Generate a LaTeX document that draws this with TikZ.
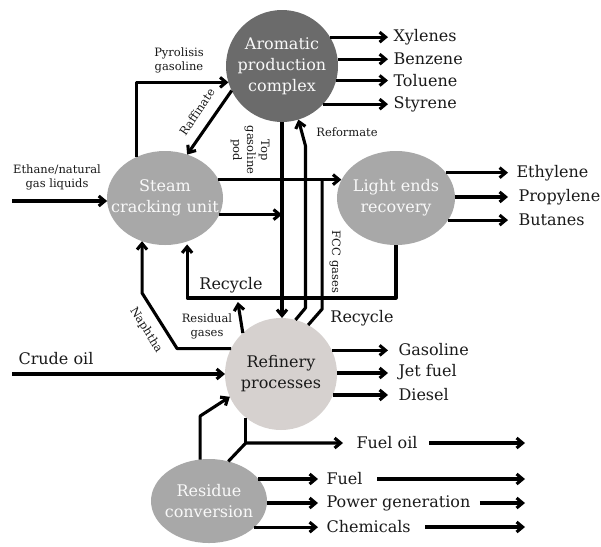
\documentclass[tikz,border=0pt]{standalone}
\usepackage{fontspec}
\setmainfont{DejaVu Serif}
\usetikzlibrary{arrows.meta,calc,shapes.geometric}
\definecolor{aromc}{HTML}{6B6B6B}
\definecolor{midc}{HTML}{A8A8A8}
\definecolor{refc}{HTML}{D6D1CF}
\definecolor{inktext}{HTML}{1A1A1A}
\begin{document}
\begin{tikzpicture}[x=1pt,y=-1pt,
  line width=3.1pt, line join=round,
  arr/.style={-{Straight Barb[length=6pt,width=10pt]}},
  blob/.style={ellipse, draw=none, inner sep=0pt, outer sep=0pt},
  ntext/.style={font=\fontsize{16}{21}\selectfont, align=center, inner sep=0pt},
  big/.style={font=\fontsize{16}{19}\selectfont, inner sep=0pt, text=inktext},
  small/.style={font=\fontsize{11.5}{14}\selectfont, align=center, inner sep=0pt, text=inktext},
]
\useasboundingbox[fill=white] (0,0) rectangle (601,546);

% ---- main units
\node[blob, fill=aromc, minimum width=112pt, minimum height=112pt,
  label={[ntext,text=white!95!gray]center:{Aromatic\\production\\complex}}] (arom) at (282,66) {};
\node[blob, fill=midc, minimum width=116pt, minimum height=94pt,
  label={[ntext,text=white!95!gray]center:{Steam\\cracking unit}}] (steam) at (165,198) {};
\node[blob, fill=midc, minimum width=118pt, minimum height=94pt,
  label={[ntext,text=white!95!gray]center:{Light ends\\recovery}}] (light) at (396,198) {};
\node[blob, fill=refc, minimum width=112pt, minimum height=112pt,
  label={[ntext,text=inktext]center:{Refinery\\processes}}] (refin) at (281,374) {};
\node[blob, fill=midc, minimum width=116pt, minimum height=84pt,
  label={[ntext,text=white!95!gray]center:{Residue\\conversion}}] (res) at (209,501) {};

% ---- helper coordinates
\coordinate (ein) at (12,201);
\coordinate (cin) at (12,374);
\coordinate (ry) at (0,298);
\coordinate (ny) at (0,293);
\coordinate (rr) at (0,416);
\coordinate (fo) at (0,443);
\coordinate (endx) at (525,0);

% ---- labels
\node[small] (ethl) at (57,177) {Ethane/natural\\gas liquids};
\node[small] (pyrl) at (179,60) {Pyrolisis\\gasoline};
\node[small, rotate=56] (rafl) at (197,112) {Raffinate};
\node[small, rotate=-90] (topl) at (250,150) {Top\\gasoline\\pod};
\node[small] (refl) at (347,132) {Reformate};
\node[small, rotate=-90] (fccl) at (335,262) {FCC gases};
\node[small] (resl) at (207,326) {Residual\\gases};
\node[small, rotate=-58] (napl) at (146,330) {Naphtha};
\node[big] (rec1) at (231,285) {Recycle};
\node[big] (rec2) at (362,318) {Recycle};
\node[big, anchor=west] (crude) at (17,359) {Crude oil};

% outputs
\node[big, anchor=west] (xyl) at (392,37) {Xylenes};
\node[big, anchor=west] (ben) at (392,59) {Benzene};
\node[big, anchor=west] (tol) at (392,81) {Toluene};
\node[big, anchor=west] (sty) at (392,104) {Styrene};
\node[big, anchor=west] (eth) at (515,173) {Ethylene};
\node[big, anchor=west] (pro) at (517,197) {Propylene};
\node[big, anchor=west] (but) at (517,220) {Butanes};
\node[big, anchor=west] (gas) at (397,350) {Gasoline};
\node[big, anchor=west] (jet) at (397,372) {Jet fuel};
\node[big, anchor=west] (die) at (397,395) {Diesel};
\node[big, anchor=west] (fuelo) at (355,443) {Fuel oil};
\node[big, anchor=west] (fuel) at (325,479) {Fuel};
\node[big, anchor=west] (pow) at (325,503) {Power generation};
\node[big, anchor=west] (chem) at (325,527) {Chemicals};

% ---- connectors
\draw[arr] (ein) -- (ein -| steam.183);
\draw[arr] (cin) -- (cin -| refin.west);
\draw[arr] (steam.125) |- (arom.197);
\draw[arr] (arom.206) -- (steam.63);
\draw[arr] (arom.south) -- (arom.south |- refin.north);
\draw[arr] (steam.19) -- (light.162 |- steam.19);
\draw[arr] (steam.-17) -- (steam.-17 -| arom.south);
\draw[arr, shorten >=3pt] (light.south) -- (light.south |- ry) -- (steam.-63 |- ry) -- (steam.-63);
\draw[arr] (refin.133) -- ++(-5,-31);
\draw[arr] (refin.75) -- ++(10,-12) -- ++(0,-162) -- (arom.-73);
\draw (refin.61) -- ++(14,-16) coordinate (fc) -- (fc |- steam.19);
\draw[arr] (refin.153.5) -- ++(-54,0) -- (steam.-118 |- ny) -- (steam.-118);

% aromatic products
\draw[arr, shorten >=4pt] (arom.31) -- (arom.31 -| xyl.west);
\draw[arr, shorten >=4pt] (arom.7) -- (arom.7 -| ben.west);
\draw[arr, shorten >=4pt] (arom.-15) -- (arom.-15 -| tol.west);
\draw[arr, shorten >=4pt] (arom.-43) -- (arom.-43 -| sty.west);
% light ends products
\draw[arr, shorten >=7pt] (light.27) -- (light.27 -| eth.west);
\draw[arr, shorten >=9pt] (light.1) -- (light.1 -| pro.west);
\draw[arr, shorten >=9pt] (light.-23) -- (light.-23 -| but.west);
% refinery products
\draw[arr, shorten >=9pt] (refin.25) -- (refin.25 -| gas.west);
\draw[arr, shorten >=9pt] (refin.1) -- (refin.1 -| jet.west);
\draw[arr, shorten >=9pt] (refin.-22) -- (refin.-22 -| die.west);
% residue
\draw[arr] (res.102) -- (res.102 |- rr) -- (refin.204);
\draw (refin.231) -- (refin.231 |- fo);
\draw[arr, shorten >=12pt] (res.64) -- (refin.231 |- fo) -- (fo -| fuelo.west);
\draw[arr] ([xshift=10pt]fuelo.east) -- (fuelo.east -| endx);
\draw[arr, shorten >=7pt] (res.24) -- (res.24 -| fuel.west);
\draw[arr, shorten >=7pt] (res.-2) -- (res.-2 -| pow.west);
\draw[arr, shorten >=7pt] (res.-30) -- (res.-30 -| chem.west);
\draw[arr] ([xshift=13pt]fuel.east) -- (fuel.east -| endx);
\draw[arr] ([xshift=8pt]pow.east) -- (pow.east -| endx);
\draw[arr] ([xshift=13pt]chem.east) -- (chem.east -| endx);
\end{tikzpicture}
\end{document}
